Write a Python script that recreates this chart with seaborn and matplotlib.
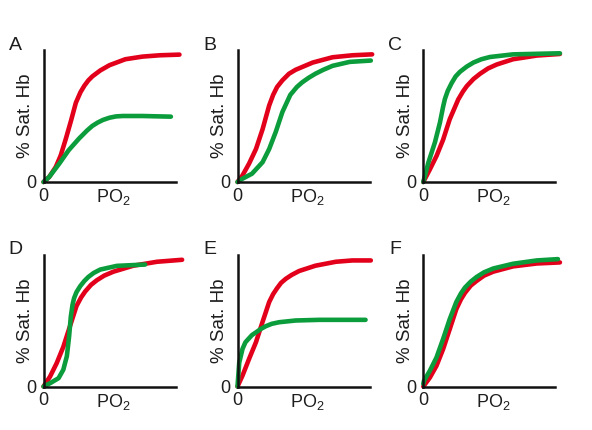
import numpy as np
import pandas as pd
import matplotlib
matplotlib.use("Agg")
import matplotlib.pyplot as plt
import seaborn as sns

sns.set_style("white")
plt.rcParams['font.family'] = ['Liberation Sans', 'DejaVu Sans']
plt.rcParams['mathtext.fontset'] = 'custom'
plt.rcParams['mathtext.rm'] = 'Liberation Sans'

panels = ['A', 'B', 'C', 'D', 'E', 'F']

# curves: x = PO2 (0..1 = axis length), y = saturation (0..1 = axis height)
red_x = {
    'A': [0, 0.043, 0.093, 0.13, 0.17, 0.21, 0.245, 0.28, 0.31, 0.34, 0.37, 0.43, 0.50, 0.62, 0.75, 0.88, 1.03],
    'B': [0, 0.038, 0.088, 0.14, 0.19, 0.24, 0.27, 0.30, 0.34, 0.39, 0.44, 0.57, 0.72, 0.87, 1.02],
    'C': [0, 0.05, 0.10, 0.15, 0.20, 0.265, 0.30, 0.33, 0.38, 0.43, 0.49, 0.556, 0.68, 0.86, 1.035],
    'D': [0, 0.05, 0.10, 0.15, 0.20, 0.25, 0.285, 0.316, 0.36, 0.404, 0.46, 0.53, 0.68, 0.86, 1.05],
    'E': [0, 0.038, 0.088, 0.14, 0.19, 0.24, 0.27, 0.30, 0.33, 0.366, 0.41, 0.467, 0.59, 0.745, 0.87, 1.01],
    'F': [0, 0.05, 0.10, 0.15, 0.20, 0.25, 0.285, 0.316, 0.36, 0.404, 0.46, 0.53, 0.68, 0.86, 1.035],
}
red_y = {
    'A': [0, 0.038, 0.114, 0.20, 0.33, 0.47, 0.60, 0.68, 0.73, 0.77, 0.80, 0.845, 0.885, 0.93, 0.95, 0.96, 0.965],
    'B': [0, 0.05, 0.14, 0.25, 0.40, 0.58, 0.66, 0.72, 0.77, 0.82, 0.85, 0.905, 0.945, 0.96, 0.967],
    'C': [0, 0.096, 0.197, 0.32, 0.475, 0.626, 0.685, 0.727, 0.78, 0.82, 0.86, 0.89, 0.93, 0.958, 0.97],
    'D': [0, 0.076, 0.177, 0.30, 0.455, 0.61, 0.675, 0.72, 0.77, 0.805, 0.84, 0.87, 0.915, 0.945, 0.96],
    'E': [0, 0.083, 0.21, 0.336, 0.49, 0.64, 0.70, 0.745, 0.785, 0.816, 0.845, 0.875, 0.915, 0.945, 0.955, 0.955],
    'F': [0, 0.068, 0.157, 0.283, 0.434, 0.586, 0.66, 0.71, 0.765, 0.80, 0.84, 0.87, 0.91, 0.932, 0.94],
}
green_x = {
    'A': [0, 0.043, 0.12, 0.19, 0.27, 0.33, 0.37, 0.41, 0.45, 0.50, 0.55, 0.60, 0.75, 0.965],
    'B': [0, 0.038, 0.11, 0.19, 0.24, 0.29, 0.34, 0.40, 0.45, 0.49, 0.54, 0.59, 0.65, 0.72, 0.85, 1.01],
    'C': [0, 0.038, 0.088, 0.126, 0.15, 0.164, 0.185, 0.215, 0.245, 0.278, 0.33, 0.38, 0.44, 0.505, 0.68, 1.035],
    'D': [0, 0.05, 0.114, 0.15, 0.177, 0.194, 0.207, 0.22, 0.232, 0.25, 0.278, 0.31, 0.34, 0.38, 0.43, 0.556, 0.77],
    'E': [0, 0.008, 0.013, 0.038, 0.06, 0.088, 0.11, 0.14, 0.175, 0.215, 0.26, 0.316, 0.44, 0.62, 0.795, 0.97],
    'F': [0, 0.005, 0.05, 0.10, 0.15, 0.20, 0.25, 0.285, 0.316, 0.36, 0.404, 0.46, 0.53, 0.68, 0.86, 1.02],
}
green_y = {
    'A': [0, 0.038, 0.14, 0.24, 0.33, 0.39, 0.425, 0.45, 0.47, 0.487, 0.497, 0.50, 0.50, 0.495],
    'B': [0, 0.025, 0.063, 0.15, 0.25, 0.38, 0.53, 0.66, 0.72, 0.755, 0.79, 0.82, 0.85, 0.88, 0.91, 0.92],
    'C': [0, 0.146, 0.30, 0.45, 0.57, 0.63, 0.69, 0.75, 0.80, 0.835, 0.875, 0.905, 0.93, 0.947, 0.967, 0.975],
    'D': [0, 0.025, 0.063, 0.127, 0.23, 0.38, 0.53, 0.62, 0.67, 0.715, 0.76, 0.80, 0.83, 0.86, 0.886, 0.914, 0.924],
    'E': [0, 0.11, 0.18, 0.285, 0.335, 0.366, 0.39, 0.41, 0.435, 0.457, 0.475, 0.487, 0.50, 0.505, 0.505, 0.505],
    'F': [0.02, 0.043, 0.12, 0.22, 0.36, 0.51, 0.64, 0.705, 0.75, 0.795, 0.83, 0.865, 0.894, 0.93, 0.955, 0.965],
}

RED = '#e3001b'
GREEN = '#0b9c3c'
TXT = '#1e1e1e'

W, H = 592, 430
fig = plt.figure(figsize=(W / 100, H / 100), dpi=100)

lefts = [43.5, 237.5, 423.3]
bottoms = [182.0, 386.5]
unit = 132.0   # pixels per axis unit
xmax = 1.06

for i, p in enumerate(panels):
    r, c = divmod(i, 3)
    lx, by = lefts[c], bottoms[r]
    ax = fig.add_axes([lx / W, (H - by) / H, unit * xmax / W, unit / H])
    ax.set_facecolor('none')
    df = pd.concat([
        pd.DataFrame({'po2': red_x[p], 'sat': red_y[p], 'curve': 'red'}),
        pd.DataFrame({'po2': green_x[p], 'sat': green_y[p], 'curve': 'green'}),
    ])
    sns.lineplot(data=df, x='po2', y='sat', hue='curve', palette={'red': RED, 'green': GREEN},
                 sort=False, estimator=None, legend=False, ax=ax, linewidth=3.3)
    for ln in ax.lines:
        ln.set_solid_capstyle('round')
        ln.set_solid_joinstyle('round')
        ln.set_clip_on(False)
    ax.set_xlim(0, xmax)
    ax.set_ylim(0, 1)
    for s in ['top', 'right']:
        ax.spines[s].set_visible(False)
    for s in ['left', 'bottom']:
        ax.spines[s].set_linewidth(1.8)
        ax.spines[s].set_color('#111111')
    ax.spines['bottom'].set_bounds(0, 1)
    ax.set_xticks([0])
    ax.set_yticks([0])
    ax.set_xticklabels(['0'])
    ax.set_yticklabels(['0'])
    ax.tick_params(length=0, labelsize=13, colors=TXT, pad=4)
    ax.tick_params(axis='y', pad=5)
    ax.set_xlabel('')
    ax.set_ylabel('')
    ax.text(70 / (unit * xmax), -15 / unit, r'PO$_{\mathregular{2}}$', transform=ax.transAxes,
            ha='center', va='center', fontsize=13, color=TXT)
    ax.text(-18 / (unit * xmax), 0.5, '% Sat. Hb', transform=ax.transAxes, rotation=90,
            ha='center', va='center', fontsize=13.5, color=TXT)
    fig.text((lx - 28) / W, (H - (by - 137)) / H, p, ha='center', va='center',
             fontsize=14, color=TXT)

fig.savefig('out.png', dpi=100, facecolor='white')
